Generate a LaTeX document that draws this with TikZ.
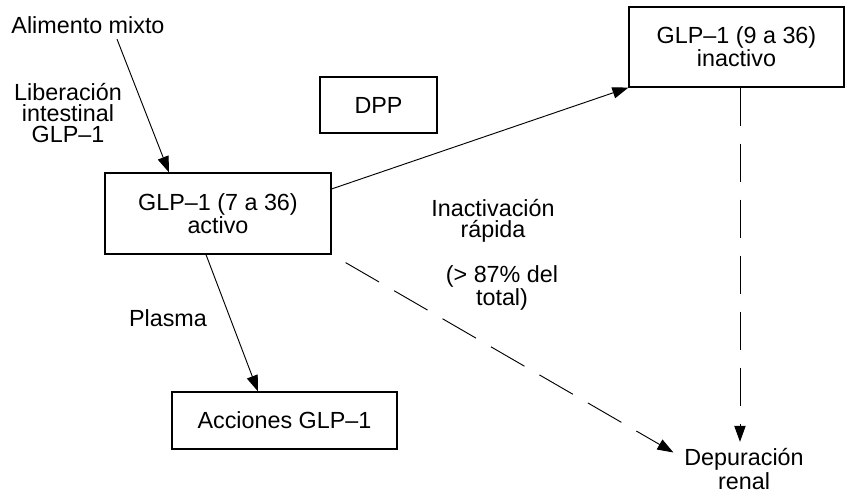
\documentclass[tikz,border=0pt]{standalone}
\usepackage{fontspec}
\setmainfont{Liberation Sans}
\usetikzlibrary{arrows.meta}

\begin{document}
\begin{tikzpicture}
[x=0.75pt,y=-0.75pt,
  font=\fontsize{17.5}{16}\selectfont,
  boxDecorate/.style={draw,line width=0.9pt,inner sep=0pt,align=center},
  textDecorate/.style={inner sep=0pt,align=center},
  lineDecorate/.style={-{Triangle[length=12pt,width=8.5pt]},line width=0.7pt},
  dashDecorate/.style={lineDecorate,dash pattern=on 29pt off 13pt}]
\useasboundingbox (0,0) rectangle (847,492);
%% boxes
\foreach \nodename/\x/\y/\w/\h/\txt in {
  dpp/378.5/105/117/56/{DPP},
  active/218/213.5/226/81/{GLP--1 (7 a 36)\\activo},
  inactive/736.5/47/215/80/{GLP--1 (9 a 36)\\inactivo},
  actions/284.5/420.5/225/57/{Acciones GLP--1}}
{
  \node (\nodename) at (\x,\y) [boxDecorate,minimum width=\w*0.75pt,minimum height=\h*0.75pt] {\txt};
}
%% free labels
\node (alimento) at (88,25) [textDecorate] {Alimento mixto};
\node (liberacion) at (68,113) [textDecorate] {Liberación\\intestinal\\GLP--1};
\node (inactivacion) at (493,221) [textDecorate] {Inactivación\\rápida};
\node (percent) at (502,288) [textDecorate] {(> 87\% del\\total)};
\node (plasma) at (168,318) [textDecorate] {Plasma};
\node (depuracion) at (744,469) [textDecorate] {Depuración\\renal};
%% arrows
\draw[lineDecorate] ([xshift=21.75pt,yshift=-4pt]alimento.south) -- ([xshift=-36.75pt]active.north);
\draw[lineDecorate] ([yshift=18.4pt]active.east) -- (inactive.south west);
\draw[lineDecorate] ([xshift=-9pt]active.south) -- ([xshift=-19.9pt]actions.north);
\draw[dashDecorate] ([xshift=10.5pt,yshift=-6pt]active.south east) -- ([xshift=-8pt,yshift=-3pt]depuracion.north west);
\draw[dashDecorate] ([xshift=2.6pt]inactive.south) -- ([xshift=2.6pt,yshift=5pt]inactive.south |- depuracion.north);
\end{tikzpicture}
\end{document}
